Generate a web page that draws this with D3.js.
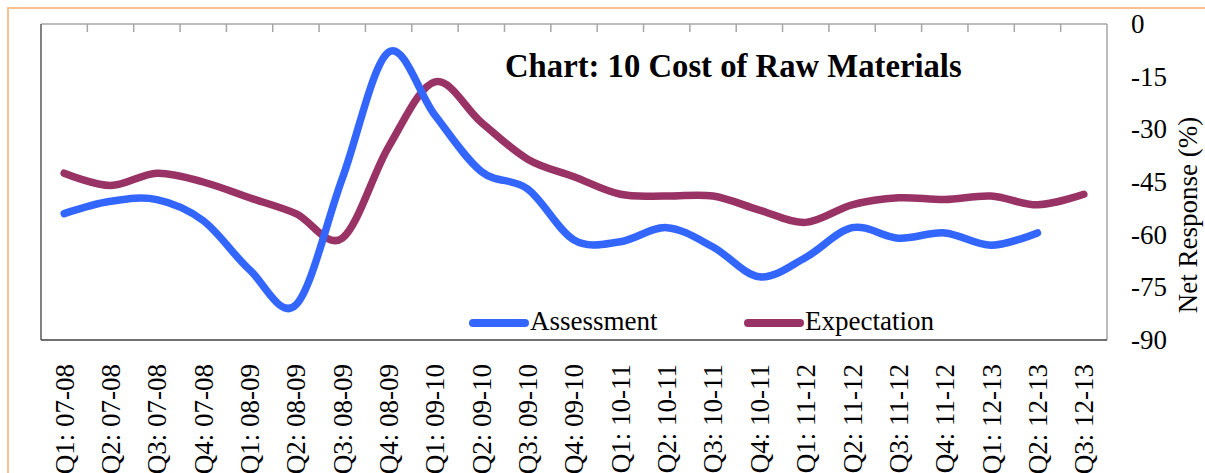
<!DOCTYPE html>
<html>
<head>
<meta charset="utf-8">
<script src="https://cdn.jsdelivr.net/npm/d3@7"></script>
<style>
  body { margin: 0; background: #fff; }
  svg { display: block; font-family: "Liberation Serif", "Times New Roman", serif; }
</style>
</head>
<body>
<div id="chart"></div>
<script>
// Data
const quarters = [
  "Q1: 07-08", "Q2: 07-08", "Q3: 07-08", "Q4: 07-08",
  "Q1: 08-09", "Q2: 08-09", "Q3: 08-09", "Q4: 08-09",
  "Q1: 09-10", "Q2: 09-10", "Q3: 09-10", "Q4: 09-10",
  "Q1: 10-11", "Q2: 10-11", "Q3: 10-11", "Q4: 10-11",
  "Q1: 11-12", "Q2: 11-12", "Q3: 11-12", "Q4: 11-12",
  "Q1: 12-13", "Q2: 12-13", "Q3: 12-13",
];
const assessment = [
  -54, -50.5, -50, -56, -70, -80, -44, -8, -26, -42, -47, -61.5,
  -62, -58, -63.5, -72, -66.5, -58, -61, -59.5, -63, -59.5,
];
const expectation = [
  -42.5, -46, -42.5, -45, -49.5, -54, -61, -35, -16.5, -28, -38.5, -43.5,
  -48.5, -49, -49, -53, -56.5, -51.5, -49.5, -50, -49, -51.5, -48.5,
];
const yTicks = [0, -15, -30, -45, -60, -75, -90];

const svgWidth = 1205,
  svgHeight = 473;
const plot = { left: 41, right: 1107, top: 24, bottom: 340 };
const colors = { assessment: "#3366ff", expectation: "#993366" };

const svg = d3
  .select("#chart")
  .append("svg")
  .attr("width", svgWidth)
  .attr("height", svgHeight);

svg.append("rect").attr("width", svgWidth).attr("height", svgHeight).attr("fill", "#fff");

// orange frame round the whole chart
svg
  .append("rect")
  .attr("x", 8)
  .attr("y", 8)
  .attr("width", svgWidth + 20)
  .attr("height", svgHeight + 20)
  .attr("fill", "none")
  .attr("stroke", "#fac08f")
  .attr("stroke-width", 2);

// scales
const x = d3
  .scaleBand()
  .domain(quarters)
  .range([plot.left, plot.right])
  .paddingInner(0)
  .paddingOuter(0);
const cx = (d) => x(d) + x.bandwidth() / 2;
const y = d3.scaleLinear().domain([-90, 0]).range([plot.bottom, plot.top]);

// plot box: grey top/right, dark left/bottom
svg
  .append("line")
  .attr("x1", plot.left).attr("x2", plot.right)
  .attr("y1", plot.top).attr("y2", plot.top)
  .attr("stroke", "#a6a6a6").attr("stroke-width", 1.5);
svg
  .append("line")
  .attr("x1", plot.right).attr("x2", plot.right)
  .attr("y1", plot.top).attr("y2", plot.bottom)
  .attr("stroke", "#a6a6a6").attr("stroke-width", 1.5);
svg
  .append("line")
  .attr("x1", plot.left).attr("x2", plot.left)
  .attr("y1", plot.top).attr("y2", plot.bottom)
  .attr("stroke", "#595959").attr("stroke-width", 1.5);
svg
  .append("line")
  .attr("x1", plot.left).attr("x2", plot.right)
  .attr("y1", plot.bottom).attr("y2", plot.bottom)
  .attr("stroke", "#404040").attr("stroke-width", 1.5);

// small ticks hanging from the top edge, at category boundaries
svg
  .append("g")
  .selectAll("line")
  .data(quarters.slice(1))
  .enter()
  .append("line")
  .attr("x1", (d) => x(d))
  .attr("x2", (d) => x(d))
  .attr("y1", plot.top)
  .attr("y2", plot.top + 8)
  .attr("stroke", "#a6a6a6")
  .attr("stroke-width", 1.5);

// right axis labels (plain hyphen, as in the source)
const yAxis = svg
  .append("g")
  .attr("transform", "translate(" + plot.right + ",0)")
  .call(d3.axisRight(y).tickValues(yTicks).tickSize(0).tickPadding(24).tickFormat((d) => String(d)));
yAxis.select(".domain").remove();
yAxis
  .selectAll("text")
  .attr("font-family", "Liberation Serif")
  .attr("font-size", 27)
  .attr("fill", "#000");

svg
  .append("text")
  .attr("transform", "translate(1197,215) rotate(-90)")
  .attr("text-anchor", "middle")
  .attr("font-size", 27)
  .text("Net Response (%)");

// category labels, vertical
svg
  .append("g")
  .selectAll("text")
  .data(quarters)
  .enter()
  .append("text")
  .attr("transform", (d) => "translate(" + cx(d) + ",364) rotate(-90)")
  .attr("text-anchor", "end")
  .attr("dy", "0.35em")
  .attr("font-size", 27)
  .text((d) => d);

// smoothed lines
const line = d3
  .line()
  .x((d, i) => cx(quarters[i]))
  .y((d) => y(d))
  .curve(d3.curveCatmullRom.alpha(0));

svg
  .append("path")
  .datum(expectation)
  .attr("fill", "none")
  .attr("stroke", colors.expectation)
  .attr("stroke-width", 7.5)
  .attr("stroke-linecap", "round")
  .attr("d", line);
svg
  .append("path")
  .datum(assessment)
  .attr("fill", "none")
  .attr("stroke", colors.assessment)
  .attr("stroke-width", 7.5)
  .attr("stroke-linecap", "round")
  .attr("d", line);

// title
svg
  .append("text")
  .attr("x", 505)
  .attr("y", 77)
  .attr("font-size", 32.7)
  .attr("font-weight", "bold")
  .text("Chart: 10 Cost of Raw Materials");

// legend
const legend = [
  { name: "Assessment", color: colors.assessment, x: 470 },
  { name: "Expectation", color: colors.expectation, x: 745 },
];
const items = svg.append("g").selectAll("g").data(legend).enter().append("g");
items
  .append("line")
  .attr("x1", (d) => d.x + 3)
  .attr("x2", (d) => d.x + 55)
  .attr("y1", 323)
  .attr("y2", 323)
  .attr("stroke", (d) => d.color)
  .attr("stroke-width", 8)
  .attr("stroke-linecap", "round");
items
  .append("text")
  .attr("x", (d) => d.x + 60)
  .attr("y", 330)
  .attr("font-size", 27)
  .text((d) => d.name);
</script>
</body>
</html>
